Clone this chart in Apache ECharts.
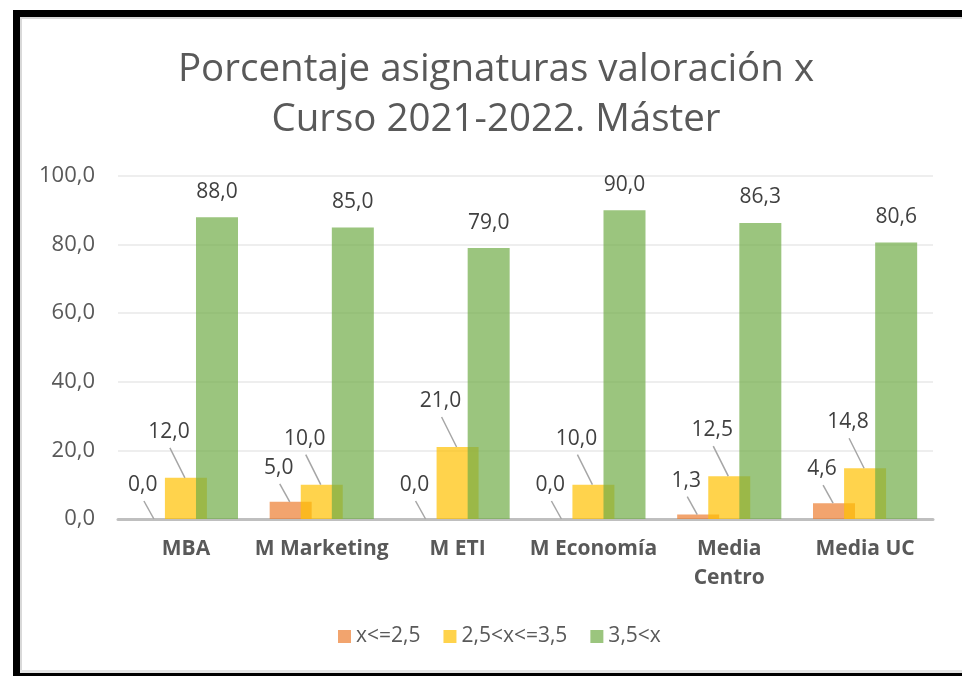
<!DOCTYPE html>
<html>
<head>
<meta charset="utf-8">
<script src="https://cdn.jsdelivr.net/npm/echarts@6/dist/echarts.min.js"></script>
<style>
  html, body { margin: 0; padding: 0; background: #fff; }
  #chart { width: 962px; height: 676px; }
</style>
</head>
<body>
<div id="chart"></div>
<script>
const categories = ['MBA', 'M Marketing', 'M ETI', 'M Economía', 'Media\nCentro', 'Media UC']
const seriesNames = ['x<=2,5', '2,5<x<=3,5', '3,5<x']
const lowValues = [0.0, 5.0, 0.0, 0.0, 1.3, 4.6]
const midValues = [12.0, 10.0, 21.0, 10.0, 12.5, 14.8]
const highValues = [88.0, 85.0, 79.0, 90.0, 86.3, 80.6]

const FONT = '"Open Sans", "Noto Sans", sans-serif'
const COLORS = ['rgba(237, 125, 49, 0.7)', 'rgba(255, 192, 0, 0.7)', 'rgba(112, 173, 71, 0.7)']

const BAR_W = 42
const BAR_STEP = 31 // ancho - solape
// desplazamiento de etiquetas (centro) respecto al centro superior de la barra
const LOW_NUDGE = [-12, -34]
const MID_NUDGE = [-17, -46]

// Coma decimal, como en el original
const fmt = (v) => Number(v).toFixed(1).replace('.', ',')

function nudged([dx, dy]) {
  return (p) => ({
    x: p.rect.x + p.rect.width / 2 + dx,
    y: p.rect.y + dy,
    align: 'center',
    verticalAlign: 'middle',
  })
}

const labelBase = {
  show: true,
  formatter: (p) => fmt(p.value),
  color: '#404040',
  fontSize: 21,
  fontFamily: FONT,
}

// líneas guía desde la etiqueta hasta la parte superior de la barra
function guideLine(x, top, [dx, dy]) {
  return {
    type: 'line',
    shape: { x1: x + dx + 1, y1: top + dy + 16, x2: x - 1, y2: top },
    style: { stroke: '#A6A6A6', lineWidth: 1.5 },
  }
}

const chart = echarts.init(document.getElementById('chart'))

chart.setOption({
  backgroundColor: '#ffffff',
  animation: false,
  color: COLORS,
  textStyle: { fontFamily: FONT },
  grid: { left: 118, right: 29, top: 176, bottom: 157 },
  legend: {
    left: 333,
    top: 621,
    icon: 'rect',
    itemWidth: 13,
    itemHeight: 13,
    itemGap: 23,
    textStyle: { color: '#595959', fontSize: 21, fontFamily: FONT },
    data: seriesNames,
  },
  xAxis: {
    type: 'category',
    data: categories,
    axisLine: { lineStyle: { color: '#BFBFBF', width: 3 } },
    axisTick: { show: false },
    axisLabel: {
      color: '#595959',
      fontSize: 21,
      fontWeight: 'bold',
      fontFamily: FONT,
      lineHeight: 29,
      margin: 16,
      interval: 0,
    },
  },
  yAxis: {
    type: 'value',
    min: 0,
    max: 100,
    interval: 20,
    axisLine: { show: false },
    axisTick: { show: false },
    axisLabel: {
      color: '#595959',
      fontSize: 22,
      fontFamily: FONT,
      margin: 23,
      formatter: fmt,
    },
    splitLine: { lineStyle: { color: '#EEEEEE', width: 2 } },
  },
  series: [
    {
      name: seriesNames[0],
      type: 'bar',
      data: lowValues,
      barWidth: BAR_W,
      barGap: '-26%',
      label: { ...labelBase, position: 'top' },
      labelLayout: nudged(LOW_NUDGE),
    },
    {
      name: seriesNames[1],
      type: 'bar',
      data: midValues,
      barWidth: BAR_W,
      barGap: '-26%',
      label: { ...labelBase, position: 'top' },
      labelLayout: nudged(MID_NUDGE),
    },
    {
      name: seriesNames[2],
      type: 'bar',
      data: highValues,
      barWidth: BAR_W,
      barGap: '-26%',
      label: { ...labelBase, position: 'top', distance: 15 },
    },
    {
      name: 'guias',
      type: 'custom',
      silent: true,
      z: 3,
      data: categories.map((c, i) => [i, lowValues[i], midValues[i]]),
      renderItem: (params, api) => {
        const lowTop = api.coord([api.value(0), api.value(1)])
        const midTop = api.coord([api.value(0), api.value(2)])
        return {
          type: 'group',
          children: [
            guideLine(lowTop[0] - BAR_STEP, lowTop[1], LOW_NUDGE),
            guideLine(midTop[0], midTop[1], MID_NUDGE),
          ],
        }
      },
    },
  ],
  graphic: [
    {
      type: 'text',
      x: 496,
      y: 45,
      style: {
        text: 'Porcentaje asignaturas valoración x\nCurso 2021-2022. Máster',
        fill: '#595959',
        font: '38.5px ' + FONT,
        lineHeight: 50,
        align: 'center',
      },
    },
    // marco negro del recorte original
    { type: 'rect', shape: { x: 13, y: 10, width: 949, height: 7 }, style: { fill: '#000' } },
    { type: 'rect', shape: { x: 13, y: 10, width: 7, height: 666 }, style: { fill: '#000' } },
    { type: 'rect', shape: { x: 13, y: 673, width: 949, height: 3 }, style: { fill: '#000' } },
    { type: 'rect', shape: { x: 20, y: 17, width: 942, height: 2 }, style: { fill: '#D9D9D9' } },
    { type: 'rect', shape: { x: 20, y: 17, width: 2, height: 656 }, style: { fill: '#D9D9D9' } },
    { type: 'rect', shape: { x: 20, y: 670, width: 942, height: 3 }, style: { fill: '#E3E3E3' } },
  ],
})
</script>
</body>
</html>
